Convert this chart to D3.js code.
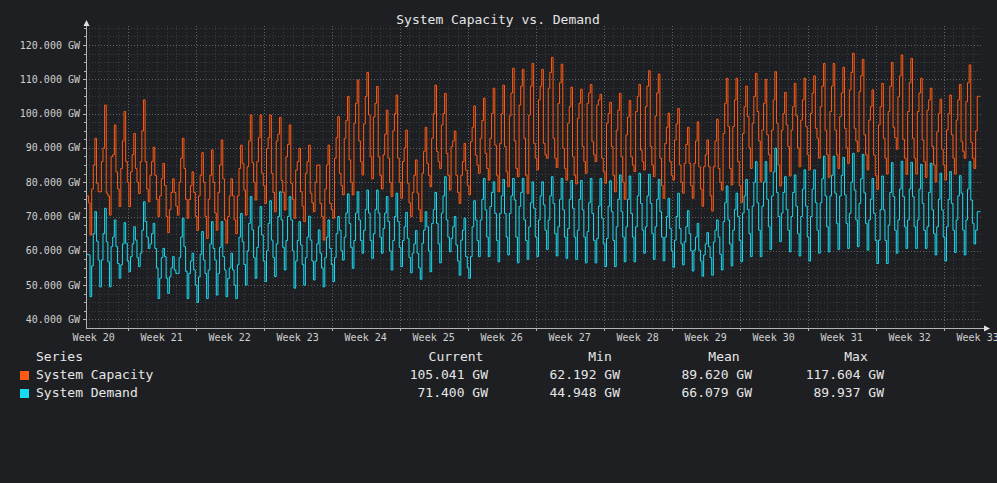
<!DOCTYPE html>
<html><head><meta charset="utf-8">
<script src="https://cdn.jsdelivr.net/npm/d3@7"></script>
<style>html,body{margin:0;padding:0;background:#1e1f22;overflow:hidden}svg{display:block}</style>
</head><body>
<svg id="chart" width="997" height="483"></svg>
<script>
const chartTitle = "System Capacity vs. Demand";
const seriesNames = ["System Capacity", "System Demand"];
const seriesColors = ["#ff5a14", "#19daf0"];
const weekLabels = ["Week 20","Week 21","Week 22","Week 23","Week 24","Week 25","Week 26","Week 27","Week 28","Week 29","Week 30","Week 31","Week 32","Week 33"];
const yTickValues = [40, 50, 60, 70, 80, 90, 100, 110, 120];
const unit = "GW";
const legendHeaders = ["Current", "Min", "Mean", "Max"];
const capacityStats = ["105.041", "62.192", "89.620", "117.604"];
const demandStats = ["71.400", "44.948", "66.079", "89.937"];
const viewStart = "2024-05-15T17:00:00Z";
const viewEnd = "2024-08-15T22:45:00Z";
const sampleStart = "2024-05-15T15:00:00Z";
const sampleHours = 4;

const capacity = [
76,
76,74,64.6,78,85,92.8,
79.7,77.2,77.2,86,90,102.5,
76.8,76,70.4,87.4,88,96.7,
83,78,72.9,84,92,100.6,
86,80,72.9,83,88,94.2,
84,80,76.7,86,95,104,
86,78,74.3,82,86,90.2,
82,75,70,76,81,85.5,
79,70,65.3,72,77,81,
77,73,70.4,80,87,92.8,
84,75,69.5,75,79,83,
77,70,66,76,82,88.6,
80,70,63.6,75,82,89.4,
80,71,66,77,85,92.3,
81,69,62.192,70,76,81,
76,69,65,76,84,90.8,
85.5,77.7,70.4,84.5,92,99.6,
85.7,80,74.8,86,93,99.6,
82.6,79,73.8,89.8,93,99.6,
82.6,77,71.4,92,94,98.9,
80.5,77,71.9,87.4,91,96.7,
79.7,75,69.5,83.5,86,89.9,
77.2,73,68.5,82.6,86,90.8,
76.8,74,71.4,80,85,85,
73.8,70,63.1,78,85,90.8,
73.8,72,69.5,87,93,99.1,
82.6,79,76.3,92.8,98,105,
86.5,80,76.3,97.2,103,109.8,
92,86,82.1,97,105,112,
99.6,87.4,81,99,103,107.9,
87.4,82,78,88,94,101,
87,80,75.8,95,100,105.4,
87,80,75.3,86,90,95.2,
79.7,74,70,77,82,86.5,
76.8,72,68.5,82.6,89,96,
85.5,82,78.7,92.8,100,108.3,
89,86,84,96.7,100,105.9,
88.4,82,77.7,90.4,92,94.9,
82,77,73.8,82,86,91.3,
83.5,79,76.3,91.8,96,102.2,
87.9,85,82.6,92.8,98,104.5,
88.4,84,80.6,92.8,100,107.4,
90.8,82,77.2,91.3,100,108.3,
90.4,83,78.7,99.3,106,113.2,
92,84,81.6,102.5,108,112.9,
92.8,82,76.7,99.6,108,114.6,
91.3,87,83.6,104,108,112.9,
91.3,88,87,107.4,112,116.4,
92.8,87,84.3,103,109,114.4,
89.9,84,80.6,97.2,102,107.7,
87.4,82,79.5,98.6,103,107.1,
90.4,86,82.6,103,106,108.5,
91.8,88,86,102.5,104,105.6,
87,83,79.7,97.2,100,103.3,
90.4,82,77.2,95.2,101,105.9,
87.4,80,75,93.8,99,103.8,
87.4,85,83.1,100.6,105,108.5,
89.4,86,83.6,102,108,112.5,
90.4,85,81.6,99.3,106,111.5,
87,79,75.3,91.3,96,100.1,
86,82,80.6,92.3,97,101.5,
85,80,76.8,85.5,91,96,
85.5,79,75.3,85.5,92,97.6,
84.5,78,73,84.5,88,92.3,
84.5,76,71.6,84.5,92,98.4,
84,80,77.7,94.2,103,110.3,
96.2,84,79.2,96.2,104,110.3,
86,79,74.1,94.2,102,108,
99.1,90,84,97.2,105,111.7,
100.6,92,80.1,95.2,103,110,
93.8,88,83.1,95.2,104,112.2,
97.2,85,78.9,95.2,100,106.2,
96.7,90.4,81.8,95.2,102,108.8,
99.3,90,84.5,98.1,104,110.3,
96.2,88,83.6,100.1,106,111,
95.7,92.8,87,102,108,114.6,
95.2,88,81.4,100.6,108,114.6,
95.2,88,84,99.1,106,113.5,
95.7,90,85.5,106.9,112,117.604,
95.7,92,88.9,106.4,111,115.8,
93.8,88,83.6,98.1,102,106.9,
87.9,82,77.9,96.7,102,108.8,
92.8,87,82.4,100.6,108,114.9,
96,93,89.6,104.9,111,117.1,
92.5,87,82.3,100.6,109,116.1,
92.8,87,82.4,100.6,106,110.3,
92.3,86,81.4,101,104,107.4,
90.4,85,80.1,94.7,100,104.2,
89.6,85,80.6,95.2,100,105.4,
93.8,87,82.4,98.1,104,108.5,
91.8,89,87,103.5,109,114.2,
91.6,87,84,95,105.041,105.041
];

const demand = [
59,
59,58.8,46.6,55.6,65,71.4,
62.8,57.3,49.5,57.3,65,72.4,
62.6,56.8,49.5,61.2,64,69,
61.2,56.3,52,55.9,62,68.2,
62.2,57,53.9,58.3,62,67,
63.1,58,55.4,59.3,66,74.3,
68.5,64,60.7,62,65,68,
60.7,55,46.1,52,58,60.7,
58.3,52,47.6,52.4,55,58.3,
54.4,53.4,53.4,58,64,69.5,
61.2,54,46.1,53.4,57,59.3,
54.4,50,44.948,52.4,59,65.6,
57.3,53.4,46.1,54.4,62,68.5,
60.7,57.3,47.1,53.4,61,68.5,
58.3,54.4,46.6,51.9,55,59.3,
54.4,50,46.1,55.9,64,70.9,
62.6,56,50,60,68,75.8,
66.1,58,52,61,67,72.9,
64.6,57,51,60,68,74.6,
63.1,58,52.5,62,70,77.2,
69,61,54.4,63,70,75.8,
69,60,49.1,57,63,68.5,
61.7,56,50,58,64,70.1,
63.1,57,51.5,57,62,66.1,
59.3,55,49.5,58,64,69,
60.7,56,51,58,65,70,
66,60,57.3,64,71,76.6,
68,61,54.9,63,71,77.2,
69,63,59.3,66,72,77.7,
71,63,57.8,65,72,77.7,
71,64,59.3,66.5,71,75.8,
68.5,60,54.4,63,70,76.8,
68.5,61,55.4,63,67,71.2,
63.6,58,53.6,59.3,62,65.9,
59.3,55,51.7,62.2,66,71.4,
67,60,53.9,68,72,77,
68,62,56.5,71,76,81.6,
69,64,59.7,63.6,67,70,
61.7,57,52.9,63.1,66,69.5,
58.3,55,52,58.3,67,74.6,
69,63,58.3,69,75,81.1,
71.9,64,58.3,72.9,77,80.1,
70.9,63,56.8,70.9,76,80.8,
70.9,64,58.8,70.9,76,81.1,
74.8,64,56.5,72.9,77,81.1,
69,63,57.5,67,74,80.1,
72.4,64,58.3,69,76,80.1,
73.4,66,60.4,69,76,81.6,
73.8,65,58.5,67,75,81.1,
71.9,64,57.8,66.5,75,80.5,
72.4,64,57.5,66,75,80.5,
71.9,64,56.5,65.6,74,81.1,
70.9,63,56.5,63.6,73,81.1,
69.5,62,55.4,63.6,73,80.4,
71.4,63,55.4,67,75,82.1,
71.4,64,56.8,67,75,81.8,
70.9,64,56.8,67,76,82.6,
73.8,66,59.3,67,76,82.3,
73.8,65,57.5,67,75,80.8,
71.4,64,57.1,64,70,75.3,
66.5,60,55.2,63.1,70,76.8,
66.5,62,55.9,62.6,67,71.7,
65,60,54.1,60.2,64,68,
60.2,57,52.6,58.8,62,65.3,
61.2,58,52.9,62.6,66,69,
64,59,54.4,68.5,74,78.9,
69,62,55.6,66,72,76.8,
70,63,56.8,71,76,80.8,
72,65,58.3,73,80,86,
74,66,58.3,73,80,86,
75,67,60.4,76,83,89.937,
77,70,62.7,71,77,81.6,
72,66,59.7,70,77,82.1,
73,65,58.5,70,78,83.6,
73,64,57,70,78,83.6,
74,66,59.3,74,81,87.6,
76,67,59.7,76,82,87.6,
76.8,68,60.4,76,82,87.2,
76.3,68,60.7,70.9,80,88.4,
77.7,69,61.2,73.8,81,88.1,
76.9,68,60.2,69,75,81.1,
70.9,63,56.3,63.1,72,81.8,
71.9,63,56.3,67.5,77,85.7,
75.8,66,59.3,69,78,86.1,
75.8,67,60.7,69,78,85.8,
75.8,67,60.7,69,78,85.2,
73.8,66,60.7,67,77,85.5,
71.9,65,58.8,67,75,82.6,
71.9,64,57,67,75,83.1,
73.8,66,59.5,69,76,81.9,
76.8,66,58.8,69,78,86,
74.8,68,62,66,71.4,71.4
];

// ---------- drawing ----------
const W = 997, H = 483;
const plot = {left: 86, right: 983, top: 26, bottom: 328};
const font = "'DejaVu Sans Mono', 'Liberation Mono', monospace";
const svg = d3.select("#chart");
svg.append("rect").attr("width", W).attr("height", H).attr("fill", "#1e1f22");

const x = d3.scaleUtc().domain([new Date(viewStart), new Date(viewEnd)]).range([86, 982]);
const y = d3.scaleLinear().domain([40, 120]).range([319.4, 45]);

const t0 = new Date(sampleStart).getTime();
const stepMs = sampleHours * 3600 * 1000;
function toPoints(arr) {
  const pts = arr.map((v, i) => ({t: new Date(t0 + i * stepMs), v}));
  pts.push({t: new Date(t0 + arr.length * stepMs), v: arr[arr.length - 1]});
  return pts;
}

// grid
const grid = svg.append("g").attr("shape-rendering", "crispEdges");
const yMin = y.invert(plot.bottom), yMax = y.invert(plot.top);
const minorY = d3.range(40 - 2.5, yMax, 2.5).filter(v => v > yMin + 0.1 && !yTickValues.includes(v));
grid.selectAll(".hmin").data(minorY).join("line")
  .attr("x1", plot.left).attr("x2", plot.right)
  .attr("y1", d => Math.round(y(d)) + 0.5).attr("y2", d => Math.round(y(d)) + 0.5)
  .attr("stroke", "#3a3b3e").attr("stroke-dasharray", "1,2");
const [d0, d1] = x.domain();
const days = d3.utcDay.range(d0, d1);
const mondays = d3.utcMonday.range(d0, d1);
const minorX = days.filter(d => d.getUTCDay() !== 1);
grid.selectAll(".vmin").data(minorX).join("line")
  .attr("x1", d => Math.round(x(d)) + 0.5).attr("x2", d => Math.round(x(d)) + 0.5)
  .attr("y1", plot.top).attr("y2", plot.bottom)
  .attr("stroke", "#3a3b3e").attr("stroke-dasharray", "1,2");
grid.selectAll(".hmaj").data(yTickValues).join("line")
  .attr("x1", plot.left).attr("x2", plot.right)
  .attr("y1", d => Math.round(y(d)) + 0.5).attr("y2", d => Math.round(y(d)) + 0.5)
  .attr("stroke", "#606164").attr("stroke-dasharray", "1,2");
grid.selectAll(".vmaj").data(mondays).join("line")
  .attr("x1", d => Math.round(x(d)) + 0.5).attr("x2", d => Math.round(x(d)) + 0.5)
  .attr("y1", plot.top).attr("y2", plot.bottom)
  .attr("stroke", "#606164").attr("stroke-dasharray", "1,2");

// series
svg.append("clipPath").attr("id", "clip").append("rect")
  .attr("x", plot.left + 0.5).attr("y", plot.top).attr("width", plot.right - plot.left).attr("height", plot.bottom - plot.top);
const line = d3.line().x(d => x(d.t)).y(d => y(d.v)).curve(d3.curveStepAfter);
const series = [capacity, demand];
series.forEach((arr, i) => {
  svg.append("path").attr("clip-path", "url(#clip)")
    .attr("d", line(toPoints(arr)))
    .attr("fill", "none").attr("stroke", seriesColors[i])
    .attr("stroke-width", 1).attr("stroke-linejoin", "miter");
});

// axes
const axisColor = "#b4b4b4";
const ax = svg.append("g").attr("shape-rendering", "crispEdges");
ax.append("line").attr("x1", plot.left + 0.5).attr("x2", plot.left + 0.5).attr("y1", 24).attr("y2", plot.bottom + 0.5).attr("stroke", axisColor);
ax.append("line").attr("x1", plot.left).attr("x2", 985).attr("y1", plot.bottom + 0.5).attr("y2", plot.bottom + 0.5).attr("stroke", axisColor);
svg.append("path").attr("d", `M${plot.left + 0.5},20 L${plot.left + 3.5},26 L${plot.left - 2.5},26 Z`).attr("fill", "#e0e0e0");
svg.append("path").attr("d", `M990,${plot.bottom + 0.5} L984,${plot.bottom - 2.5} L984,${plot.bottom + 3.5} Z`).attr("fill", "#e0e0e0");
// y ticks
ax.selectAll(".yt").data(minorY.concat(yTickValues)).join("line")
  .attr("x1", d => yTickValues.includes(d) ? plot.left - 3 : plot.left - 2).attr("x2", plot.left)
  .attr("y1", d => Math.round(y(d)) + 0.5).attr("y2", d => Math.round(y(d)) + 0.5).attr("stroke", axisColor);
// x ticks
ax.selectAll(".xt").data(mondays).join("line")
  .attr("x1", d => Math.round(x(d)) + 0.5).attr("x2", d => Math.round(x(d)) + 0.5)
  .attr("y1", plot.bottom).attr("y2", plot.bottom + 3).attr("stroke", axisColor);

// y labels
svg.selectAll(".yl").data(yTickValues).join("text")
  .attr("x", 80).attr("y", d => y(d) + 3.5).attr("text-anchor", "end")
  .attr("font-family", font).attr("font-size", 10).attr("fill", "#cfcfcf")
  .text(d => d3.format(".3f")(d) + " " + unit);
// x labels: centred on the middle of each ISO week
const firstMonday = d3.utcMonday.floor(d0);
svg.selectAll(".xl").data(weekLabels).join("text")
  .attr("x", (d, i) => x(new Date(firstMonday.getTime() + (i * 7 + 3.5) * 86400000)))
  .attr("y", 341).attr("text-anchor", "middle")
  .attr("font-family", font).attr("font-size", 10).attr("fill", "#cfcfcf")
  .text(d => d);

// title
svg.append("text").attr("x", 498).attr("y", 24).attr("text-anchor", "middle")
  .attr("font-family", font).attr("font-size", 13).attr("fill", "#e6e6e6").text(chartTitle);

// legend
const lg = svg.append("g").attr("font-family", font).attr("font-size", 13).attr("fill", "#e6e6e6");
lg.append("text").attr("x", 36).attr("y", 361).text("Series");
const headerX = [456, 600, 724, 856];
const valueX = [488, 620, 752, 884];
legendHeaders.forEach((h, i) => lg.append("text").attr("x", headerX[i]).attr("y", 361).attr("text-anchor", "middle").text(h));
const statsRows = [capacityStats, demandStats];
seriesNames.forEach((name, r) => {
  const yy = 379 + r * 18;
  lg.append("rect").attr("x", 20).attr("y", yy - 8).attr("width", 9).attr("height", 9).attr("fill", seriesColors[r]);
  lg.append("text").attr("x", 36).attr("y", yy).text(name);
  statsRows[r].forEach((v, i) => lg.append("text").attr("x", valueX[i]).attr("y", yy).attr("text-anchor", "end").text(v + " " + unit));
});
</script>
</body></html>
